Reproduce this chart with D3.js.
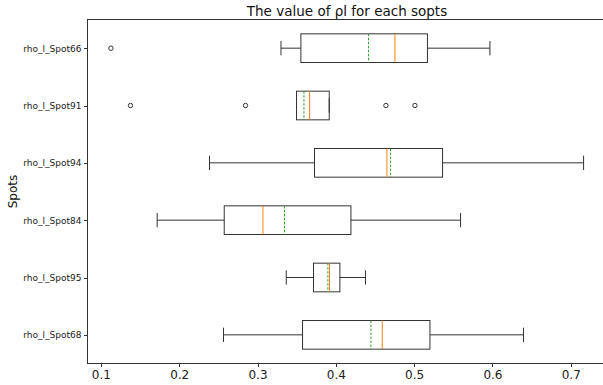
<!DOCTYPE html>
<html>
<head>
<script src="https://d3js.org/d3.v7.min.js"></script>
<style>
body { margin: 0; background: #fff; }
svg { font-family: "DejaVu Sans", sans-serif; }
.axis path, .axis line { stroke: #333; shape-rendering: crispEdges; }
.axis text { fill: #222; }
</style>
</head>
<body>
<div id="chart"></div>
<script>
// spots, bottom to top (matplotlib position 1..6)
var spots = ["rho_l_Spot68", "rho_l_Spot95", "rho_l_Spot84", "rho_l_Spot94", "rho_l_Spot91", "rho_l_Spot66"];
var whiskLo = [0.2566, 0.3367, 0.1719, 0.2387, 0.3498, 0.3300];
var q1      = [0.3575, 0.3715, 0.2575, 0.3728, 0.3498, 0.3554];
var medians = [0.4593, 0.3920, 0.3069, 0.4653, 0.3665, 0.4755];
var means   = [0.4448, 0.3899, 0.3345, 0.4699, 0.3593, 0.4418];
var q3      = [0.5202, 0.4052, 0.4193, 0.5363, 0.3916, 0.5170];
var whiskHi = [0.6397, 0.4379, 0.5593, 0.7164, 0.3916, 0.5968];
var outliers = [[], [], [], [], [0.1378, 0.2847, 0.4640, 0.5010], [0.1128]];
var xTicks = [0.1, 0.2, 0.3, 0.4, 0.5, 0.6, 0.7];

var width = 603, height = 385,
    plotLeft = 87.5, plotRight = 603, plotTop = 19.5, plotBottom = 363.5;

var svg = d3.select("#chart").append("svg")
    .attr("width", width).attr("height", height);

var x = d3.scaleLinear().domain([0.0829, 0.7412]).range([plotLeft, plotRight]);
var y = d3.scaleLinear().domain([0.5, 6.5]).range([plotBottom, plotTop]);

var data = spots.map(function(s, i) {
    return {name: s, pos: i + 1, lo: whiskLo[i], q1: q1[i], med: medians[i],
            mean: means[i], q3: q3[i], hi: whiskHi[i], out: outliers[i]};
});

var boxH = y(0) - y(0.5);
var capH = y(0) - y(0.25);

var g = svg.selectAll(".box").data(data).enter().append("g").attr("class", "box");

// whiskers
g.append("line")
    .attr("x1", function(d) { return x(d.lo); }).attr("x2", function(d) { return x(d.q1); })
    .attr("y1", function(d) { return y(d.pos); }).attr("y2", function(d) { return y(d.pos); })
    .attr("stroke", "#333");
g.append("line")
    .attr("x1", function(d) { return x(d.q3); }).attr("x2", function(d) { return x(d.hi); })
    .attr("y1", function(d) { return y(d.pos); }).attr("y2", function(d) { return y(d.pos); })
    .attr("stroke", "#333");
// caps
[function(d) { return x(d.lo); }, function(d) { return x(d.hi); }].forEach(function(fx) {
    g.append("line")
        .attr("x1", fx).attr("x2", fx)
        .attr("y1", function(d) { return y(d.pos) - capH / 2; })
        .attr("y2", function(d) { return y(d.pos) + capH / 2; })
        .attr("stroke", "#333");
});
// box
g.append("rect")
    .attr("x", function(d) { return x(d.q1); })
    .attr("width", function(d) { return x(d.q3) - x(d.q1); })
    .attr("y", function(d) { return y(d.pos) - boxH / 2; })
    .attr("height", boxH)
    .attr("fill", "none").attr("stroke", "#333");
// median
g.append("line")
    .attr("x1", function(d) { return x(d.med); }).attr("x2", function(d) { return x(d.med); })
    .attr("y1", function(d) { return y(d.pos) - boxH / 2; })
    .attr("y2", function(d) { return y(d.pos) + boxH / 2; })
    .attr("stroke", "#ff7f0e");
// mean line (dashed)
g.append("line")
    .attr("x1", function(d) { return x(d.mean); }).attr("x2", function(d) { return x(d.mean); })
    .attr("y1", function(d) { return y(d.pos) - boxH / 2; })
    .attr("y2", function(d) { return y(d.pos) + boxH / 2; })
    .attr("stroke", "#2ca02c").attr("stroke-dasharray", "2.5,1.5");
// fliers
g.selectAll(".flier").data(function(d) { return d.out.map(function(v) { return {v: v, pos: d.pos}; }); })
    .enter().append("circle")
    .attr("cx", function(d) { return x(d.v); })
    .attr("cy", function(d) { return y(d.pos); })
    .attr("r", 2.2)
    .attr("fill", "none").attr("stroke", "#333");

// axes
var xAxis = d3.axisBottom(x).tickValues(xTicks).tickFormat(d3.format(".1f")).tickSize(3.5).tickPadding(3);
svg.append("g").attr("class", "axis")
    .attr("transform", "translate(0," + plotBottom + ")")
    .call(xAxis)
    .call(function(a) { a.select(".domain").remove(); })
    .selectAll("text").attr("font-size", 12).attr("font-family", "DejaVu Sans");

var yAxis = d3.axisLeft(y).tickValues(data.map(function(d) { return d.pos; }))
    .tickFormat(function(p) { return spots[p - 1]; }).tickSize(3.5).tickPadding(2.5);
svg.append("g").attr("class", "axis")
    .attr("transform", "translate(" + plotLeft + ",0)")
    .call(yAxis)
    .call(function(a) { a.select(".domain").remove(); })
    .selectAll("text").attr("font-size", 9).attr("font-family", "DejaVu Sans");

// frame
svg.append("rect")
    .attr("x", plotLeft).attr("y", plotTop)
    .attr("width", plotRight - plotLeft + 2).attr("height", plotBottom - plotTop)
    .attr("fill", "none").attr("stroke", "#333").attr("shape-rendering", "crispEdges");

// title and label
svg.append("text")
    .attr("x", 347).attr("y", 16)
    .attr("text-anchor", "middle").attr("font-size", 13.5).attr("fill", "#111")
    .text("The value of \u03c1l for each sopts");

svg.append("text")
    .attr("transform", "translate(16.5," + (plotTop + plotBottom) / 2 + ") rotate(-90)")
    .attr("text-anchor", "middle").attr("font-size", 12).attr("fill", "#111")
    .text("Spots");
</script>
</body>
</html>
